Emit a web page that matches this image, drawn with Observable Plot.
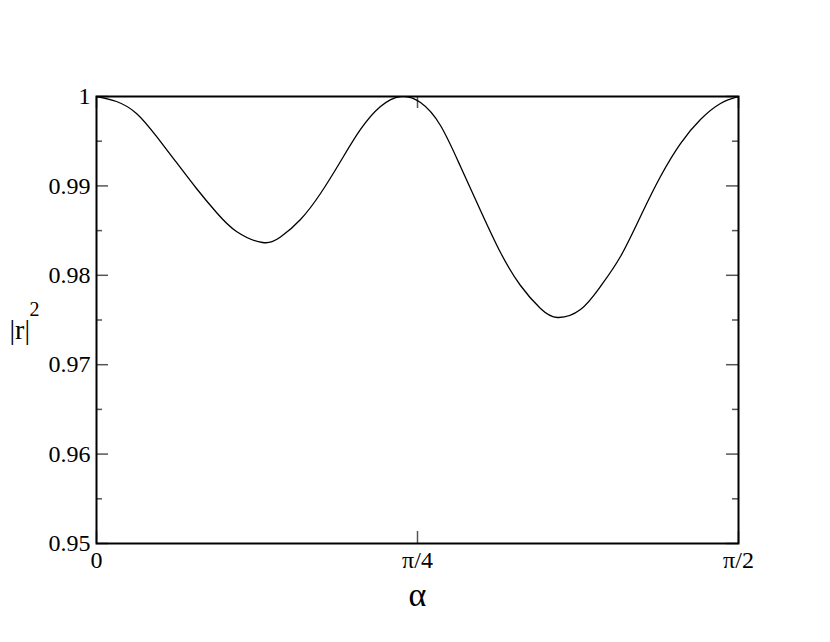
<!DOCTYPE html>
<html><head><meta charset="utf-8">
<script src="https://cdn.jsdelivr.net/npm/d3@7"></script>
<script src="https://cdn.jsdelivr.net/npm/@observablehq/plot@0.6"></script>
<style>body{margin:0;background:#fff}</style>
</head><body><div id="chart"></div>
<script>
// alpha in radians, |r|^2 values
const alpha = [0, 0.04893, 0.09787, 0.14680, 0.19573, 0.24467, 0.29360, 0.34253, 0.40615, 0.45019, 0.49913, 0.54806, 0.59699, 0.64592, 0.69485, 0.74378, 0.79272, 0.84165, 0.89058, 0.93952, 0.98845, 1.03738, 1.08632, 1.12791, 1.18418, 1.23312, 1.28205, 1.33098, 1.37991, 1.42885, 1.47778, 1.52671, 1.5708];
const r2 = [1.0, 0.99944, 0.99810, 0.99553, 0.99262, 0.98971, 0.98702, 0.98490, 0.98367, 0.98428, 0.98624, 0.98915, 0.99273, 0.99631, 0.99888, 1.0, 0.99933, 0.99676, 0.99217, 0.98725, 0.98255, 0.97886, 0.97629, 0.97528, 0.97617, 0.97875, 0.98210, 0.98658, 0.99105, 0.99474, 0.99743, 0.99922, 1.0];
const yMajorTicks = [0.95, 0.96, 0.97, 0.98, 0.99, 1];
const yMinorTicks = [0.955, 0.965, 0.975, 0.985, 0.995];
const yTickLabels = ["0.95", "0.96", "0.97", "0.98", "0.99", "1"];
const xTickValues = [0, Math.PI / 4, Math.PI / 2];
const xTickLabels = ["0", "π/4", "π/2"];
const xLabel = "α";
const yLabel = "|r|";
const yLabelSup = "2";

const data = alpha.map((a, i) => ({a, v: r2[i]}));
const W = 830, H = 642, mL = 96, mR = 92, mT = 96, mB = 99;
const pw = W - mL - mR, ph = H - mT - mB;
const serif = "Liberation Serif";
const tickColor = "#555";

const chart = Plot.plot({
  width: W, height: H,
  marginLeft: mL, marginRight: mR, marginTop: mT, marginBottom: mB,
  style: {fontFamily: serif, fontSize: "24px", background: "#fff", color: "#000"},
  x: {domain: [0, Math.PI / 2]},
  y: {domain: [0.95, 1]},
  marks: [
    Plot.axisY(yMajorTicks, {anchor: "left", tickSize: 0, tickPadding: 6, label: null,
      tickFormat: (d) => yTickLabels[yMajorTicks.indexOf(d)], fontSize: 24}),
    Plot.axisX(xTickValues, {anchor: "bottom", tickSize: 0, tickPadding: 7, label: null,
      tickFormat: (d) => xTickLabels[xTickValues.indexOf(d)], fontSize: 24}),
    // inward ticks
    Plot.tickY(yMajorTicks, {y: d => d, insetRight: pw - 12, stroke: tickColor, strokeWidth: 1.5}),
    Plot.tickY(yMajorTicks, {y: d => d, insetLeft: pw - 12, stroke: tickColor, strokeWidth: 1.5}),
    Plot.tickY(yMinorTicks, {y: d => d, insetRight: pw - 6, stroke: tickColor, strokeWidth: 1.5}),
    Plot.tickY(yMinorTicks, {y: d => d, insetLeft: pw - 6, stroke: tickColor, strokeWidth: 1.5}),
    Plot.tickX(xTickValues, {x: d => d, insetTop: ph - 12, stroke: tickColor, strokeWidth: 1.5}),
    Plot.tickX(xTickValues, {x: d => d, insetBottom: ph - 12, stroke: tickColor, strokeWidth: 1.5}),
    Plot.line(data, {x: "a", y: "v", curve: "natural", clip: "frame", stroke: "#000", strokeWidth: 1.3}),
    Plot.frame({stroke: "#000", strokeWidth: 2}),
    Plot.text([xLabel], {text: d => d, frameAnchor: "bottom", dy: 62, fontSize: 34, fontFamily: serif}),
    Plot.text([yLabel], {text: d => d, frameAnchor: "left", dx: -87, dy: 10, textAnchor: "start", fontSize: 28, fontFamily: serif}),
    Plot.text([yLabelSup], {text: d => d, frameAnchor: "left", dx: -67, dy: -10, textAnchor: "start", fontSize: 20, fontFamily: serif})
  ]
});
document.getElementById("chart").appendChild(chart);
</script>
</body></html>
